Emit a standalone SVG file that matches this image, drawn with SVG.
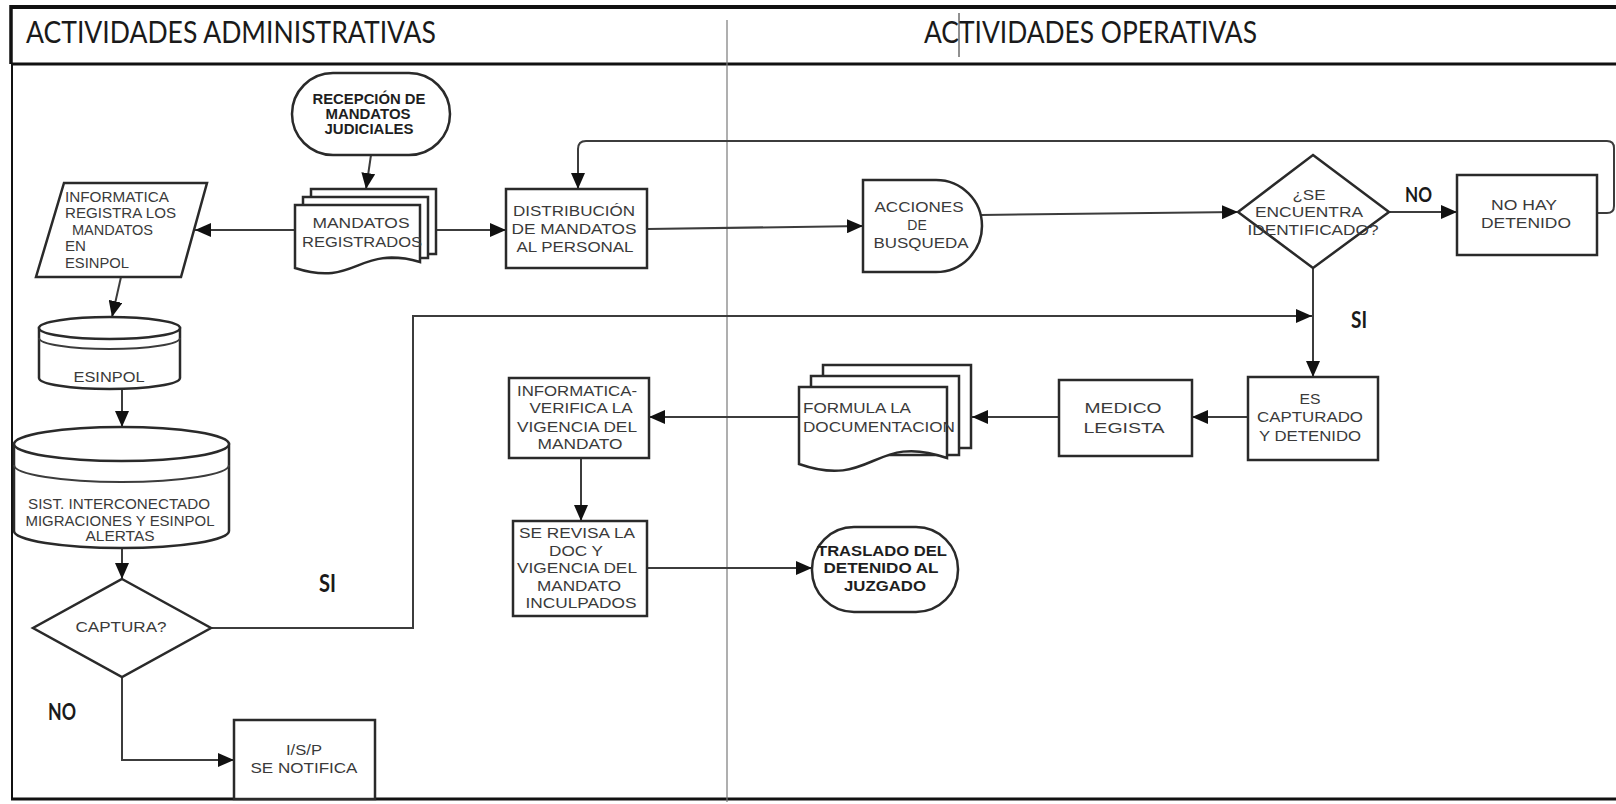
<svg xmlns="http://www.w3.org/2000/svg" width="1616" height="804" viewBox="0 0 1616 804">
<style>
.bg{fill:#ffffff}
.frame{stroke:#111;fill:none}
.shape{fill:#ffffff;stroke:#2a2a2a;stroke-width:2.5}
.line{fill:none;stroke:#3c3c3c;stroke-width:2}
.t{font-family:"Liberation Sans",Arial,sans-serif;fill:#3a3a3a;text-anchor:middle;font-size:14px}
.tl{text-anchor:start}
.b{font-weight:bold;fill:#1e1e1e}
.title{font-family:Lato,"Open Sans",sans-serif;font-size:30px;fill:#1a1a1a}
.lab{font-family:Lato,"Open Sans",sans-serif;font-weight:bold;fill:#1a1a1a}
</style>
<defs>
<marker id="ah" markerUnits="userSpaceOnUse" markerWidth="16" markerHeight="14" refX="16" refY="7" orient="auto">
<path d="M0,0 L16,7 L0,14 Z" fill="#111"/>
</marker>
</defs>
<rect class="bg" x="0" y="0" width="1616" height="804"/>

<g id="frame">
<line class="frame" x1="10" y1="7" x2="1616" y2="7" stroke-width="4"/>
<line class="frame" x1="11" y1="5" x2="11" y2="64" stroke-width="3.5"/>
<line class="frame" x1="12" y1="64" x2="12" y2="800" stroke-width="2"/>
<line class="frame" x1="11" y1="64" x2="1616" y2="64" stroke-width="3"/>
<line class="frame" x1="11" y1="799" x2="1616" y2="799" stroke-width="3" stroke="#4a4a4a"/>
<line x1="727" y1="20" x2="727" y2="802" stroke="#7a7a7a" stroke-width="1.2"/>
<text class="title" x="26" y="43" textLength="410" lengthAdjust="spacingAndGlyphs">ACTIVIDADES ADMINISTRATIVAS</text>
<text class="title" x="924" y="43" textLength="333" lengthAdjust="spacingAndGlyphs">ACTIVIDADES OPERATIVAS</text>
<line x1="959" y1="13" x2="959" y2="57" stroke="#222" stroke-width="1"/>
</g>

<g id="connectors">
<path class="line" d="M371,155 L366,189" marker-end="url(#ah)"/>
<path class="line" d="M295,230 H195" marker-end="url(#ah)"/>
<path class="line" d="M436,230 H506" marker-end="url(#ah)"/>
<path class="line" d="M121,277 L112,317" marker-end="url(#ah)"/>
<path class="line" d="M122,389 V427" marker-end="url(#ah)"/>
<path class="line" d="M122,548 V579" marker-end="url(#ah)"/>
<path class="line" d="M211,628 H413 V316 H1312" marker-end="url(#ah)"/>
<path class="line" d="M122,677 V760 H234" marker-end="url(#ah)"/>
<path class="line" d="M647,229 L863,226" marker-end="url(#ah)"/>
<path class="line" d="M981,215 L1238,212" marker-end="url(#ah)"/>
<path class="line" d="M1389,212 H1457" marker-end="url(#ah)"/>
<path class="line" d="M1597,213 H1607 Q1614,213 1614,206 V148 Q1614,141 1607,141 H586 Q578,141 578,149 V189" marker-end="url(#ah)"/>
<path class="line" d="M1313,268 V377" marker-end="url(#ah)"/>
<path class="line" d="M1248,417 H1192" marker-end="url(#ah)"/>
<path class="line" d="M1059,417 H972" marker-end="url(#ah)"/>
<path class="line" d="M799,417 H649" marker-end="url(#ah)"/>
<path class="line" d="M581,458 V521" marker-end="url(#ah)"/>
<path class="line" d="M647,568 H812" marker-end="url(#ah)"/>
<text class="lab" x="319" y="592" font-size="24" textLength="17" lengthAdjust="spacingAndGlyphs">SI</text>
<text class="lab" x="48" y="720" font-size="23" textLength="28" lengthAdjust="spacingAndGlyphs">NO</text>
<text class="lab" x="1405" y="202" font-size="21" textLength="27" lengthAdjust="spacingAndGlyphs">NO</text>
<text class="lab" x="1351" y="328" font-size="23" textLength="16" lengthAdjust="spacingAndGlyphs">SI</text>
</g>

<g id="recepcion">
<rect class="shape" x="292" y="73" width="158" height="82" rx="41" ry="41"/>
<text class="t b" font-size="13"><tspan x="369" y="104" textLength="113" lengthAdjust="spacingAndGlyphs">RECEPCIÓN DE</tspan><tspan x="368" y="119" textLength="85" lengthAdjust="spacingAndGlyphs">MANDATOS</tspan><tspan x="369" y="134" textLength="89" lengthAdjust="spacingAndGlyphs">JUDICIALES</tspan></text>
</g>

<g id="mandatos">
<rect class="shape" x="311" y="189" width="125" height="65"/>
<rect class="shape" x="303" y="197" width="125" height="61"/>
<path class="shape" d="M295,205 H420 V262 C357,244 357,288 295,268 Z"/>
<text class="t" font-size="16"><tspan x="361" y="228" textLength="97" lengthAdjust="spacingAndGlyphs">MANDATOS</tspan><tspan x="362" y="247" textLength="120" lengthAdjust="spacingAndGlyphs">REGISTRADOS</tspan></text>
</g>

<g id="informatica-registra">
<path class="shape" d="M64,183 L207,183 L181,277 L36,277 Z"/>
<text class="t tl" font-size="14"><tspan x="65" y="202" textLength="104" lengthAdjust="spacingAndGlyphs">INFORMATICA</tspan><tspan x="65" y="218" textLength="111" lengthAdjust="spacingAndGlyphs">REGISTRA LOS</tspan><tspan x="72" y="235" textLength="81" lengthAdjust="spacingAndGlyphs">MANDATOS</tspan><tspan x="65" y="251" textLength="21" lengthAdjust="spacingAndGlyphs">EN</tspan><tspan x="65" y="268" textLength="64" lengthAdjust="spacingAndGlyphs">ESINPOL</tspan></text>
</g>

<g id="esinpol">
<path class="shape" d="M39,328 V378 A70.5,11 0 0 0 180,378 V328 Z"/>
<ellipse class="shape" cx="109.5" cy="328" rx="70.5" ry="11"/>
<path class="line" stroke="#2a2a2a" stroke-width="2.5" d="M39,338 A70.5,11 0 0 0 180,338"/>
<text class="t" x="109" y="382" font-size="14" textLength="71" lengthAdjust="spacingAndGlyphs">ESINPOL</text>
</g>

<g id="sistema">
<path class="shape" d="M14,444 V531 A107.5,17 0 0 0 229,531 V444 Z"/>
<ellipse class="shape" cx="121.5" cy="444" rx="107.5" ry="17"/>
<path class="line" stroke="#2a2a2a" stroke-width="2.5" d="M14,465 A107.5,17 0 0 0 229,465"/>
<text class="t" font-size="13"><tspan x="119" y="509" textLength="182" lengthAdjust="spacingAndGlyphs">SIST. INTERCONECTADO</tspan><tspan x="120" y="526" textLength="189" lengthAdjust="spacingAndGlyphs">MIGRACIONES Y ESINPOL</tspan><tspan x="120" y="541" textLength="69" lengthAdjust="spacingAndGlyphs">ALERTAS</tspan></text>
</g>

<g id="captura">
<path class="shape" d="M122,579 L211,628 L122,677 L33,628 Z"/>
<text class="t" x="121" y="632" font-size="14" textLength="91" lengthAdjust="spacingAndGlyphs">CAPTURA?</text>
</g>

<g id="isp">
<rect class="shape" x="234" y="720" width="141" height="79"/>
<text class="t" font-size="14"><tspan x="304" y="755" textLength="36" lengthAdjust="spacingAndGlyphs">I/S/P</tspan><tspan x="304" y="773" textLength="107" lengthAdjust="spacingAndGlyphs">SE NOTIFICA</tspan></text>
</g>

<g id="distribucion">
<rect class="shape" x="506" y="189" width="141" height="79"/>
<text class="t" font-size="15"><tspan x="574" y="216" textLength="122" lengthAdjust="spacingAndGlyphs">DISTRIBUCIÓN</tspan><tspan x="574" y="234" textLength="125" lengthAdjust="spacingAndGlyphs">DE MANDATOS</tspan><tspan x="575" y="252" textLength="117" lengthAdjust="spacingAndGlyphs">AL PERSONAL</tspan></text>
</g>

<g id="acciones">
<path class="shape" d="M863,180 H936 A46,46 0 0 1 936,272 H863 Z"/>
<text class="t" font-size="14"><tspan x="919" y="212" textLength="89" lengthAdjust="spacingAndGlyphs">ACCIONES</tspan><tspan x="917" y="230">DE</tspan><tspan x="921" y="248" textLength="95" lengthAdjust="spacingAndGlyphs">BUSQUEDA</tspan></text>
</g>

<g id="encuentra">
<path class="shape" d="M1313,155 L1389,212 L1313,268 L1238,212 Z"/>
<text class="t" font-size="13"><tspan x="1309" y="200" textLength="33" lengthAdjust="spacingAndGlyphs">¿SE</tspan><tspan x="1309" y="217" textLength="108" lengthAdjust="spacingAndGlyphs">ENCUENTRA</tspan><tspan x="1313" y="235" textLength="131" lengthAdjust="spacingAndGlyphs">IDENTIFICADO?</tspan></text>
</g>

<g id="nohay">
<rect class="shape" x="1457" y="175" width="140" height="80"/>
<text class="t" font-size="14"><tspan x="1524" y="210" textLength="66" lengthAdjust="spacingAndGlyphs">NO HAY</tspan><tspan x="1526" y="228" textLength="90" lengthAdjust="spacingAndGlyphs">DETENIDO</tspan></text>
</g>

<g id="capturado">
<rect class="shape" x="1248" y="377" width="130" height="83"/>
<text class="t" font-size="14"><tspan x="1310" y="404" textLength="21" lengthAdjust="spacingAndGlyphs">ES</tspan><tspan x="1310" y="422" textLength="106" lengthAdjust="spacingAndGlyphs">CAPTURADO</tspan><tspan x="1310" y="441" textLength="102" lengthAdjust="spacingAndGlyphs">Y DETENIDO</tspan></text>
</g>

<g id="medico">
<rect class="shape" x="1059" y="380" width="133" height="76"/>
<text class="t" font-size="17"><tspan x="1123" y="413" textLength="77" lengthAdjust="spacingAndGlyphs">MEDICO</tspan><tspan x="1124" y="433" textLength="81" lengthAdjust="spacingAndGlyphs">LEGISTA</tspan></text>
</g>

<g id="formula">
<rect class="shape" x="823" y="365" width="148" height="83"/>
<rect class="shape" x="811" y="376" width="148" height="79"/>
<path class="shape" d="M799,387 H947 V458 C873,432 873,490 799,464 Z"/>
<text class="t tl" font-size="15"><tspan x="803" y="413" textLength="108" lengthAdjust="spacingAndGlyphs">FORMULA LA</tspan><tspan x="803" y="432" textLength="152" lengthAdjust="spacingAndGlyphs">DOCUMENTACION</tspan></text>
</g>

<g id="verifica">
<rect class="shape" x="509" y="378" width="140" height="80"/>
<text class="t" font-size="14"><tspan x="577" y="396" textLength="120" lengthAdjust="spacingAndGlyphs">INFORMATICA-</tspan><tspan x="581" y="413" textLength="103" lengthAdjust="spacingAndGlyphs">VERIFICA LA</tspan><tspan x="577" y="432" textLength="120" lengthAdjust="spacingAndGlyphs">VIGENCIA DEL</tspan><tspan x="580" y="449" textLength="85" lengthAdjust="spacingAndGlyphs">MANDATO</tspan></text>
</g>

<g id="revisa">
<rect class="shape" x="513" y="521" width="134" height="95"/>
<text class="t" font-size="14"><tspan x="577" y="538" textLength="116" lengthAdjust="spacingAndGlyphs">SE REVISA LA</tspan><tspan x="576" y="556" textLength="54" lengthAdjust="spacingAndGlyphs">DOC Y</tspan><tspan x="577" y="573" textLength="120" lengthAdjust="spacingAndGlyphs">VIGENCIA DEL</tspan><tspan x="579" y="591" textLength="84" lengthAdjust="spacingAndGlyphs">MANDATO</tspan><tspan x="581" y="608" textLength="111" lengthAdjust="spacingAndGlyphs">INCULPADOS</tspan></text>
</g>

<g id="traslado">
<rect class="shape" x="812" y="527" width="146" height="85" rx="42" ry="42"/>
<text class="t b" font-size="14"><tspan x="882" y="556" textLength="130" lengthAdjust="spacingAndGlyphs">TRASLADO DEL</tspan><tspan x="881" y="573" textLength="115" lengthAdjust="spacingAndGlyphs">DETENIDO AL</tspan><tspan x="885" y="591" textLength="82" lengthAdjust="spacingAndGlyphs">JUZGADO</tspan></text>
</g>
</svg>
